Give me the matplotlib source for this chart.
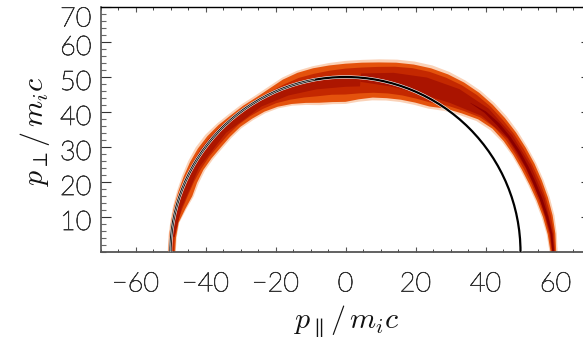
import matplotlib
matplotlib.use("Agg")
import matplotlib.pyplot as plt
from matplotlib.patches import Polygon, Circle, Arc
from matplotlib.transforms import ScaledTranslation
import matplotlib.patheffects as pe
import numpy as np

plt.rcParams['mathtext.fontset'] = 'cm'
plt.rcParams['font.family'] = ['Lato', 'Inter', 'DejaVu Sans']

# --- values ---
xticks_major = [-60, -40, -20, 0, 20, 40, 60]
yticks_major = [10, 20, 30, 40, 50, 60, 70]
ring_radius = 50

# band edges as angle (deg from +p_par) and radius
edge_theta = [0, 5, 10, 15, 20, 25, 30, 35, 40, 45, 50, 55, 60, 65, 70, 75, 80, 85, 90, 95, 100,
              105, 110, 115, 120, 125, 130, 135, 140, 145, 150, 155, 160, 165, 170, 175, 180]
edge_outer = [60.2, 60.2, 60.1, 59.9, 59.7, 59.6, 59.5, 59.5, 59.5, 59.5, 59.4, 59.1, 58.6, 57.9, 57.0, 56.0,
              55.0, 54.3, 53.8, 53.5, 53.3, 53.0, 52.4, 51.5, 51.0, 51.0, 51.0, 51.3, 51.5, 51.5, 51.3, 51.0,
              50.8, 50.7, 50.6, 50.6, 50.6]
edge_inner = [58.6, 58.0, 57.3, 56.6, 56.0, 55.6, 55.4, 55.2, 54.8, 53.6, 51.7, 50.0, 48.0, 47.1, 46.3, 45.5,
              44.8, 43.8, 42.9, 43.0, 43.3, 44.1, 45.0, 45.8, 46.3, 46.5, 46.7, 46.6, 46.5, 46.7, 46.9, 46.8,
              46.6, 47.4, 48.4, 48.6, 48.7]

fuzz_outer = [60.6, 60.6, 60.6, 60.4, 60.2, 60.1, 60.0, 60.1, 60.2, 60.2, 60.1, 59.8, 59.4, 58.8, 57.9, 56.9,
              55.9, 55.1, 54.6, 54.2, 53.9, 53.6, 53.0, 52.1, 51.6, 51.6, 51.6, 51.9, 52.2, 52.2, 51.9, 51.5,
              51.2, 51.0, 50.8, 50.8, 50.8]
fuzz_inner = [58.3, 57.7, 56.9, 56.2, 55.6, 55.2, 55.0, 54.7, 54.1, 52.9, 51.0, 49.2, 47.3, 46.4, 45.6, 44.8,
              44.0, 43.1, 42.3, 42.4, 42.6, 43.5, 44.5, 45.3, 45.8, 46.0, 46.2, 46.1, 46.0, 46.2, 46.4, 46.3,
              46.2, 47.1, 48.2, 48.4, 48.5]

red_outer = [59.9, 59.8, 59.6, 59.3, 59.1, 58.9, 58.8, 58.8, 58.7, 58.7, 58.5, 58.1, 57.5, 56.8, 55.9, 54.8,
             53.7, 52.9, 52.4, 52.0, 51.7, 51.5, 51.0, 50.6, 50.5, 50.5, 50.5, 50.7, 50.8, 50.8, 50.6, 50.4,
             50.3, 50.3, 50.3, 50.3, 50.3]
red_inner = [58.9, 58.4, 57.8, 57.1, 56.6, 56.2, 56.0, 55.9, 55.5, 54.4, 52.6, 51.0, 49.2, 48.3, 47.6, 46.9,
             46.2, 45.5, 45.0, 45.1, 45.2, 45.7, 46.3, 46.9, 47.2, 47.4, 47.5, 47.4, 47.3, 47.5, 47.6, 47.7,
             47.8, 48.2, 48.8, 49.0, 49.0]

up_theta = [0, 5, 15, 25, 35, 45, 55, 65, 75, 85]
up_outer = [59.7, 59.5, 58.9, 58.4, 58.2, 57.9, 56.8, 55.0, 53.0, 51.2]
up_inner = [59.1, 58.7, 57.6, 56.8, 56.5, 55.0, 52.0, 50.0, 49.0, 48.8]

low_theta = [85, 90, 100, 110, 120, 135, 150, 165, 175]
low_outer = [49.8, 49.8, 49.8, 49.8, 49.8, 49.8, 49.8, 49.8, 49.8]
low_inner = [47.5, 47.2, 47.2, 47.6, 48.0, 48.2, 48.3, 48.5, 49.0]

core_theta = [0, 5, 10, 15, 20, 25, 30, 35, 40, 45, 50]
core_outer = [59.6, 59.3, 58.8, 58.3, 57.9, 57.7, 57.6, 57.5, 57.3, 56.8, 55.6]
core_inner = [59.1, 58.8, 58.1, 57.5, 57.1, 56.9, 56.8, 56.7, 56.4, 56.2, 55.5]


def ring_polygon(theta, outer, inner):
    t = np.radians(theta)
    x = np.concatenate([np.multiply(outer, np.cos(t)), np.multiply(inner, np.cos(t))[::-1]])
    y = np.concatenate([np.multiply(outer, np.sin(t)), np.multiply(inner, np.sin(t))[::-1]])
    return np.column_stack([x, y])


# --- figure ---
fig = plt.figure(figsize=(5.83, 3.39), dpi=100)
W, H = 583, 339
ax = fig.add_axes([100.5 / W, (H - 252) / H, 490 / W, 245 / H])
ax.set_xlim(-70, 70)
ax.set_ylim(0, 70)

layers = [(edge_theta, fuzz_outer, fuzz_inner, '#fad2b8'),
          (edge_theta, edge_outer, edge_inner, '#e4520c'),
          (edge_theta, red_outer, red_inner, '#c42800'),
          (up_theta, up_outer, up_inner, '#aa1400'),
          (low_theta, low_outer, low_inner, '#ac1600'),
          (core_theta, core_outer, core_inner, '#8c0000')]
for th, ro, ri, colour in layers:
    ax.add_patch(Polygon(ring_polygon(th, ro, ri), closed=True, facecolor=colour,
                         edgecolor='none', zorder=2))

ax.add_patch(Circle((0, 0), ring_radius, fill=False, edgecolor='white', linewidth=2.4, zorder=3))
ax.add_patch(Circle((0, 0), ring_radius, fill=False, edgecolor='black', linewidth=1.6, zorder=4))
ax.add_patch(Arc((0, 0), 2 * ring_radius, 2 * ring_radius, theta1=100, theta2=180,
                 edgecolor='#d8d8d8', linewidth=0.5, zorder=5))

ax.set_xticks(xticks_major)
ax.set_yticks(yticks_major)
ax.set_xticks(np.arange(-70, 71, 5), minor=True)
ax.set_yticks(np.arange(0, 71, 2), minor=True)
ax.tick_params(axis='x', which='major', direction='in', length=3.8, width=0.8, color='#555555',
               top=True, bottom=True, labelsize=19.5, labelcolor='#333333', pad=14)
ax.tick_params(axis='x', which='minor', direction='in', length=2.2, width=0.7, color='#444444', top=True, bottom=True)
ax.tick_params(axis='y', which='major', direction='in', length=7, width=0.8, color='#333333',
               left=True, right=True, labelsize=19.5, labelcolor='#333333', pad=6.5)
ax.tick_params(axis='y', which='minor', direction='in', length=3.6, width=0.8, color='#666666', left=True, right=True)

for lab in ax.get_xticklabels() + ax.get_yticklabels():
    lab.set_fontweight('light')
    lab.set_path_effects([pe.withStroke(linewidth=0.55, foreground='#333333')])
for tick, lab in zip(yticks_major, ax.get_yticklabels()):
    shift = -9.5 if tick == 70 else -3
    lab.set_transform(lab.get_transform() + ScaledTranslation(0, shift / 100, fig.dpi_scale_trans))

for side, colour, lw in [('top', 'black', 1.0), ('bottom', '#555555', 1.3),
                         ('left', '#555555', 1.2), ('right', 'black', 1.0)]:
    ax.spines[side].set_color(colour)
    ax.spines[side].set_linewidth(lw)

fig.text(347 / W, 1 - 321 / H, r'$p_{\parallel}/\,m_i c$', fontsize=21.5, ha='center', va='center', color='#111111')
fig.text(35 / W, 1 - 131 / H, r'$p_{\perp}/\,m_i c$', fontsize=21.5, ha='center', va='center', rotation=90, color='#111111')

fig.savefig('out.png', dpi=100)
